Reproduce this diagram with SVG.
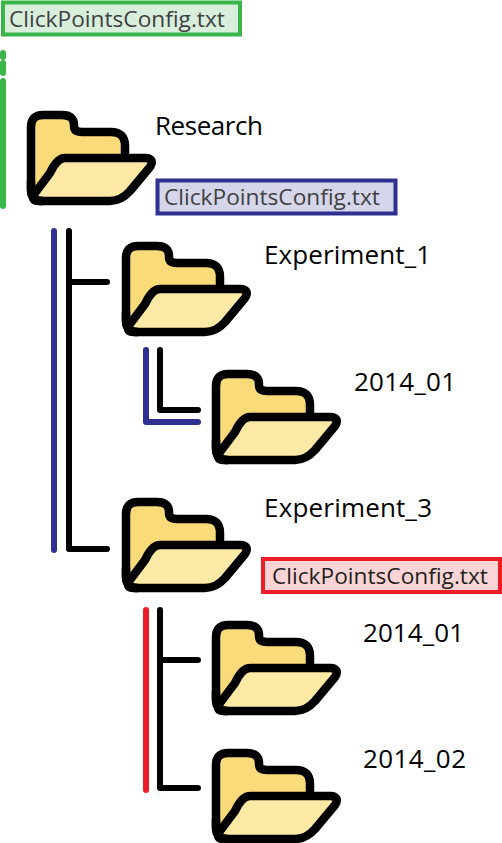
<svg xmlns="http://www.w3.org/2000/svg" width="502" height="843" viewBox="0 0 502 843">
<style>
text{font-family:"Open Sans","Noto Sans",sans-serif;font-size:26px;fill:#000}
.cfg{font-size:22.7px;fill:#414042}
.box{stroke-width:4}
.l{fill:none;stroke-width:6;stroke-linecap:round;stroke-linejoin:round}
.k{stroke:#000}.g{stroke:#39b54a}.b{stroke:#2e3192}.r{stroke:#ed1c24}
.bk{fill:#fadb7a;stroke:#000;stroke-width:8.500;stroke-linejoin:round}
.fr{fill:#fbe9a5;stroke:#000;stroke-width:8.500;stroke-linejoin:round}
</style>
<defs>
<g id="folder">
<path class="bk" d="M4 78V16Q4 4 16 4H35Q47 4 47 14V15Q47 21 55 21H84Q98 21 98 35V70L14 90Q4 90 4 78Z"/>
<path class="fr" d="M38 47H119Q128 48 123 56L103 80Q94 90 83 90H12Q3 90 8 82L23 62Q30 47 38 47Z"/>
<path d="M4 70V78Q4 90 16 90" fill="none" stroke="#000" stroke-width="8.500"/>
</g>
</defs>
<g id="connectors">
<path class="l g" d="M3 53V57M3 63V73M3 81V206"/>
<path class="l b" d="M54 231V550"/>
<path class="l k" d="M69 231V549H107M69 282H107"/>
<path class="l b" d="M146 350V422H198"/>
<path class="l k" d="M160 350V410H198"/>
<path class="l r" d="M146 610V790"/>
<path class="l k" d="M160 610V788H198M160 660H198"/>
</g>
<g id="cfg-green"><rect class="box" x="3" y="2.500" width="237" height="32" fill="#d7efdb" stroke="#39b54a"/><text class="cfg" x="9" y="27">ClickPointsConfig.txt</text></g>
<g id="research"><use href="#folder" x="27" y="111"/><text x="155" y="135" textLength="108">Research</text></g>
<g id="cfg-blue"><rect class="box" x="157.500" y="180.500" width="238" height="33" fill="#d5d6ea" stroke="#2e3192"/><text class="cfg" x="164" y="205">ClickPointsConfig.txt</text></g>
<g id="experiment-1"><use href="#folder" x="122" y="242"/><text x="264" y="264" textLength="167">Experiment_1</text></g>
<g id="e1-2014-01"><use href="#folder" x="212" y="370"/><text x="354" y="391" textLength="102">2014_01</text></g>
<g id="experiment-3"><use href="#folder" x="122" y="498"/><text x="264" y="517" textLength="168">Experiment_3</text></g>
<g id="cfg-red"><rect class="box" x="263" y="559" width="237" height="33" fill="#fbd5d6" stroke="#ed1c24"/><text class="cfg" style="fill:#231f20" x="272" y="584">ClickPointsConfig.txt</text></g>
<g id="e3-2014-01"><use href="#folder" x="212" y="621"/><text x="363" y="642" textLength="101">2014_01</text></g>
<g id="e3-2014-02"><use href="#folder" x="212" y="749"/><text x="363" y="768" textLength="103">2014_02</text></g>
</svg>
